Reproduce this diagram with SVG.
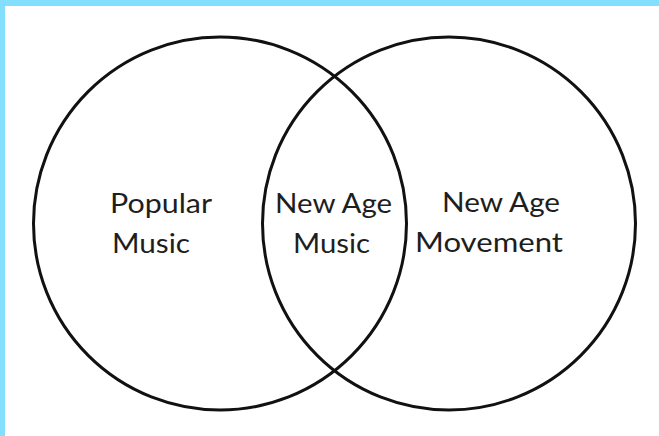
<svg xmlns="http://www.w3.org/2000/svg" width="659" height="436" viewBox="0 0 659 436">
  <style>
    .ring { fill: none; stroke: #111; stroke-width: 3; }
    .lbl { font-family: Lato, "Open Sans", "Liberation Sans", sans-serif; font-size: 27px; fill: #1e1e1e; }
    .frame { fill: #84dfff; }
  </style>
  <rect x="0" y="0" width="659" height="436" fill="#ffffff"/>
  <rect class="frame" x="0" y="0" width="659" height="6"/>
  <rect class="frame" x="0" y="0" width="5" height="436"/>
  <g id="popular-music">
    <circle class="ring" cx="220" cy="223.5" r="186.5"/>
    <text class="lbl" x="110" y="213" textLength="102" lengthAdjust="spacingAndGlyphs">Popular</text>
    <text class="lbl" x="112" y="253" textLength="78" lengthAdjust="spacingAndGlyphs">Music</text>
  </g>
  <g id="new-age-movement">
    <circle class="ring" cx="449" cy="223.5" r="186.5"/>
    <text class="lbl" x="442" y="212" textLength="118" lengthAdjust="spacingAndGlyphs">New Age</text>
    <text class="lbl" x="415" y="252" textLength="148" lengthAdjust="spacingAndGlyphs">Movement</text>
  </g>
  <g id="new-age-music">
    <text class="lbl" x="275" y="213" textLength="117" lengthAdjust="spacingAndGlyphs">New Age</text>
    <text class="lbl" x="293" y="253" textLength="77" lengthAdjust="spacingAndGlyphs">Music</text>
  </g>
  <g id="connectors"/>
</svg>
